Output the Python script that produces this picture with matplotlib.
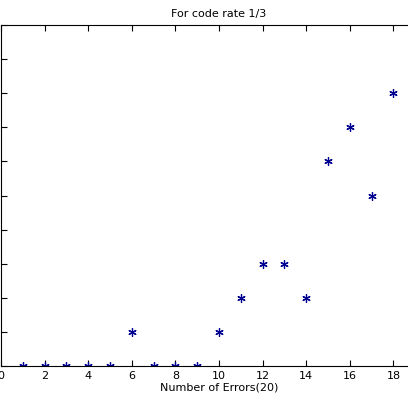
import matplotlib
matplotlib.use("Agg")
import matplotlib.pyplot as plt

errors = [1, 2, 3, 4, 5, 6, 7, 8, 9, 10, 11, 12, 13, 14, 15, 16, 17, 18]
counts = [0, 0, 0, 0, 0, 1, 0, 0, 0, 1, 2, 3, 3, 2, 6, 7, 5, 8]

fig = plt.figure(figsize=(4.08, 4.08), dpi=100)
ax = fig.add_axes([1 / 408, 42 / 408, 20 * 21.8 / 408, 341 / 408])
ax.plot(errors, counts, marker=(6, 2, 0), color="#000090", markersize=6,
        markeredgewidth=0.9, linestyle="none")
ax.set_xlim(0, 20)
ax.set_ylim(0, 10)
ax.set_xticks(range(0, 20, 2))
ax.set_yticks(range(0, 11))
ax.spines["right"].set_visible(False)
ax.tick_params(direction="in", top=True, right=False, labelsize=8, length=4)
ax.set_xlabel("Number of Errors(20)", fontsize=8, labelpad=1)
ax.set_title("For code rate 1/3", fontsize=8)
fig.savefig("out.png", dpi=100)
